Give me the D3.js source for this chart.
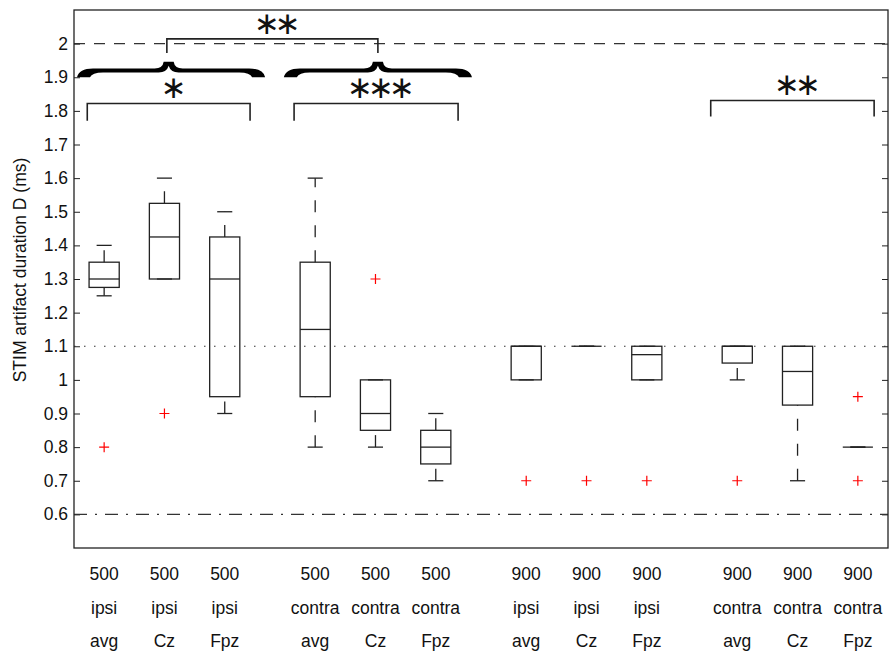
<!DOCTYPE html>
<html>
<head>
<meta charset="utf-8">
<script src="https://cdn.jsdelivr.net/npm/d3@7"></script>
<style>
    body { margin: 0; background: #fff; }
    text { font-family: "Liberation Sans", Arial, Helvetica, sans-serif; }
</style>
</head>
<body>
<div id="chart"></div>
<script>
// Data
var positions = [1, 2, 3, 4.5, 5.5, 6.5, 8, 9, 10, 11.5, 12.5, 13.5];
var freqLabels = ["500", "500", "500", "500", "500", "500", "900", "900", "900", "900", "900", "900"];
var sideLabels = ["ipsi", "ipsi", "ipsi", "contra", "contra", "contra", "ipsi", "ipsi", "ipsi", "contra", "contra", "contra"];
var siteLabels = ["avg", "Cz", "Fpz", "avg", "Cz", "Fpz", "avg", "Cz", "Fpz", "avg", "Cz", "Fpz"];

var whiskerLow = [1.25, 1.3, 0.9, 0.8, 0.8, 0.7, 1.0, 1.1, 1.0, 1.0, 0.7, 0.8];
var q1 = [1.275, 1.3, 0.95, 0.95, 0.85, 0.75, 1.0, 1.1, 1.0, 1.05, 0.925, 0.8];
var median = [1.3, 1.425, 1.3, 1.15, 0.9, 0.8, 1.1, 1.1, 1.075, 1.1, 1.025, 0.8];
var q3 = [1.35, 1.525, 1.425, 1.35, 1.0, 0.85, 1.1, 1.1, 1.1, 1.1, 1.1, 0.8];
var whiskerHigh = [1.4, 1.6, 1.5, 1.6, 1.0, 0.9, 1.1, 1.1, 1.1, 1.1, 1.1, 0.8];
var outliers = [[0.8], [0.9], [], [], [1.3], [], [0.7], [0.7], [0.7], [0.7], [], [0.95, 0.7]];

var yTicks = [0.6, 0.7, 0.8, 0.9, 1, 1.1, 1.2, 1.3, 1.4, 1.5, 1.6, 1.7, 1.8, 1.9, 2];
var refLines = [2, 1.1, 0.6];

// significance brackets (x in box units, y in ms)
var sigFrom = [0.72, 4.15, 11.06, 2.04];
var sigTo = [3.42, 6.87, 13.77, 5.54];
var sigLevel = [1.822, 1.822, 1.831, 2.014];
var sigLeg = [1.771, 1.771, 1.783, 1.972];
var sigText = ["∗", "∗∗∗", "∗∗", "∗∗"];

// braces over the two 500 groups
var braceFrom = [0.55, 3.98];
var braceTo = [3.67, 7.1];
var braceTip = [2.07, 5.54];

// SVG
var svgWidth = 889;
var svgHeight = 655;

var margin = {
    top: 10,
    right: 1,
    bottom: 107,
    left: 74
};

var width = svgWidth - margin.left - margin.right;
var height = svgHeight - margin.top - margin.bottom;

var svg = d3
    .select("#chart")
    .append("svg")
    .attr("width", svgWidth)
    .attr("height", svgHeight);

var svgGroup = svg.append("g")
    .attr("transform", `translate(${margin.left}, ${margin.top})`);

// Scales
var xScale = d3.scaleLinear()
    .domain([0.5, 14])
    .range([0, width]);

var yScale = d3.scaleLinear()
    .domain([0.5, 2.1])
    .range([height, 0]);

var ink = "#222";
var fontSize = "17.5px";

// Axes (ticks pointing inward, MATLAB style)
var leftAxis = d3.axisLeft(yScale)
    .tickValues(yTicks)
    .tickSize(-6)
    .tickPadding(6)
    .tickFormat(d => String(+d.toFixed(1)));

var rightAxis = d3.axisRight(yScale)
    .tickValues(yTicks)
    .tickSize(-6)
    .tickFormat("");

var axisY = svgGroup.append("g")
    .attr("color", ink)
    .call(leftAxis);
axisY.select(".domain").remove();
axisY.selectAll("text")
    .style("font-size", fontSize)
    .attr("fill", "#111");

var axisY2 = svgGroup.append("g")
    .attr("color", ink)
    .attr("transform", `translate(${width}, 0)`)
    .call(rightAxis);
axisY2.select(".domain").remove();

// Reference lines
var refDash = ["11,9", "1.5,8.5", "13,8,2,8"];
svgGroup.selectAll(".ref")
    .data(refLines)
    .enter()
    .append("line")
    .attr("x1", 0)
    .attr("x2", width)
    .attr("y1", d => yScale(d))
    .attr("y2", d => yScale(d))
    .attr("stroke", "#333")
    .attr("stroke-width", 1.2)
    .attr("stroke-dasharray", (d, i) => refDash[i]);

// Boxes
var boxHalf = 0.25;
var capHalf = 0.125;

var boxes = svgGroup.selectAll(".box")
    .data(positions)
    .enter()
    .append("g")
    .attr("fill", "none")
    .attr("stroke", ink)
    .attr("stroke-width", 1.3);

// whiskers, drawn bottom to top like MATLAB
boxes.append("line")
    .attr("x1", d => xScale(d))
    .attr("x2", d => xScale(d))
    .attr("y1", (d, i) => yScale(q3[i]))
    .attr("y2", (d, i) => yScale(whiskerHigh[i]))
    .attr("stroke-dasharray", "12,13");

boxes.append("line")
    .attr("x1", d => xScale(d))
    .attr("x2", d => xScale(d))
    .attr("y1", (d, i) => yScale(whiskerLow[i]))
    .attr("y2", (d, i) => yScale(q1[i]))
    .attr("stroke-dasharray", "12,13");

// caps
boxes.append("line")
    .attr("x1", d => xScale(d - capHalf))
    .attr("x2", d => xScale(d + capHalf))
    .attr("y1", (d, i) => yScale(whiskerHigh[i]))
    .attr("y2", (d, i) => yScale(whiskerHigh[i]));

boxes.append("line")
    .attr("x1", d => xScale(d - capHalf))
    .attr("x2", d => xScale(d + capHalf))
    .attr("y1", (d, i) => yScale(whiskerLow[i]))
    .attr("y2", (d, i) => yScale(whiskerLow[i]));

// box
boxes.append("rect")
    .attr("x", d => xScale(d - boxHalf))
    .attr("width", xScale(1 + boxHalf) - xScale(1 - boxHalf))
    .attr("y", (d, i) => yScale(q3[i]))
    .attr("height", (d, i) => yScale(q1[i]) - yScale(q3[i]));

// median
boxes.append("line")
    .attr("x1", d => xScale(d - boxHalf))
    .attr("x2", d => xScale(d + boxHalf))
    .attr("y1", (d, i) => yScale(median[i]))
    .attr("y2", (d, i) => yScale(median[i]));

// Outliers
var outlierPoints = [];
positions.forEach((p, i) => {
    outliers[i].forEach(v => outlierPoints.push({ x: p, y: v }));
});

svgGroup.selectAll(".outlier")
    .data(outlierPoints)
    .enter()
    .append("path")
    .attr("d", d => {
        var cx = xScale(d.x);
        var cy = yScale(d.y);
        return `M${cx - 5},${cy}H${cx + 5}M${cx},${cy - 5}V${cy + 5}`;
    })
    .attr("stroke", "#f00")
    .attr("stroke-width", 1.2)
    .attr("fill", "none");

// Significance brackets
var sig = svgGroup.selectAll(".sig")
    .data(sigText)
    .enter()
    .append("g");

sig.append("path")
    .attr("d", (d, i) => {
        var a = xScale(sigFrom[i]);
        var b = xScale(sigTo[i]);
        var top = yScale(sigLevel[i]);
        var leg = yScale(sigLeg[i]);
        return `M${a},${leg}V${top}H${b}V${leg}`;
    })
    .attr("fill", "none")
    .attr("stroke", ink)
    .attr("stroke-width", 1.6);

sig.append("text")
    .attr("x", (d, i) => (xScale(sigFrom[i]) + xScale(sigTo[i])) / 2)
    .attr("y", (d, i) => yScale(sigLevel[i]) - 5)
    .attr("dx", 2.5)
    .attr("text-anchor", "middle")
    .style("font-family", "'DejaVu Sans'")
    .style("font-size", "31px")
    .style("letter-spacing", "-5px")
    .attr("fill", "#111")
    .text(d => d);

// Braces
function bracePath(x0, x1, xm, yb, ym, yt) {
    return `M${x0},${yb}` +
        `Q${x0 + 2},${ym - 2} ${x0 + 16},${ym - 2}` +
        `L${xm - 14},${ym - 2}` +
        `Q${xm - 6},${ym - 2} ${xm - 5},${yt}` +
        `L${xm + 5},${yt}` +
        `Q${xm + 6},${ym - 2} ${xm + 14},${ym - 2}` +
        `L${x1 - 16},${ym - 2}` +
        `Q${x1 - 2},${ym - 2} ${x1},${yb}` +
        `L${x1 - 13},${yb}` +
        `Q${x1 - 15},${ym + 2} ${x1 - 26},${ym + 2}` +
        `L${xm + 10},${ym + 2}` +
        `Q${xm + 2},${ym + 2} ${xm},${yt + 4}` +
        `Q${xm - 2},${ym + 2} ${xm - 10},${ym + 2}` +
        `L${x0 + 26},${ym + 2}` +
        `Q${x0 + 15},${ym + 2} ${x0 + 13},${yb}Z`;
}

svgGroup.selectAll(".brace")
    .data(braceTip)
    .enter()
    .append("path")
    .attr("d", (d, i) => bracePath(
        xScale(braceFrom[i]), xScale(braceTo[i]), xScale(d),
        yScale(1.9), yScale(1.92), yScale(1.946)))
    .attr("fill", "#000");

// Frame
svgGroup.append("rect")
    .attr("x", 0)
    .attr("y", 0)
    .attr("width", width)
    .attr("height", height)
    .attr("fill", "none")
    .attr("stroke", ink)
    .attr("stroke-width", 1.3);

// X-Labels (three rows)
var rows = [freqLabels, sideLabels, siteLabels];
var rowY = [569.5, 603.5, 637];

rows.forEach((labels, r) => {
    svgGroup.selectAll(".xlabel" + r)
        .data(labels)
        .enter()
        .append("text")
        .attr("x", (d, i) => xScale(positions[i]))
        .attr("y", rowY[r])
        .attr("text-anchor", "middle")
        .style("font-size", fontSize)
        .attr("fill", "#111")
        .text(d => d);
});

// Y-Label
svgGroup.append("text")
    .attr("transform", "rotate(-90)")
    .attr("x", -height / 2 + 9)
    .attr("y", -48)
    .attr("text-anchor", "middle")
    .style("font-size", fontSize)
    .attr("fill", "#111")
    .text("STIM artifact duration D (ms)");
</script>
</body>
</html>
